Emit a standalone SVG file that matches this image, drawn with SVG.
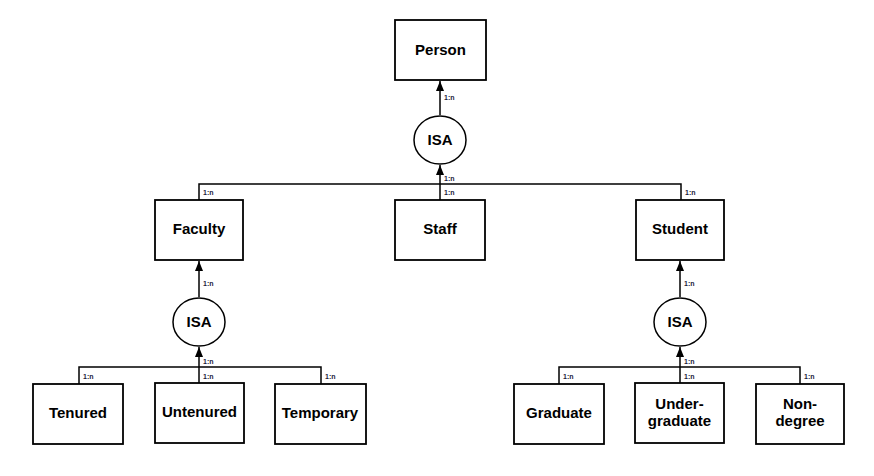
<svg xmlns="http://www.w3.org/2000/svg" width="874" height="476" viewBox="0 0 874 476">
<style>
.box{fill:#fff;stroke:#000;stroke-width:1.8}
.isa{fill:#fff;stroke:#000;stroke-width:1.5}
.lbl{font-family:"Liberation Sans",Arial,sans-serif;font-weight:bold;font-size:15px;fill:#000;text-anchor:middle}
.card{font-family:"Liberation Sans",Arial,sans-serif;font-weight:bold;font-size:7px;fill:#1a1a3a}
.ln{fill:none;stroke:#000;stroke-width:1.5}
</style>
<defs>
<marker id="arr" viewBox="0 0 10 10" refX="10" refY="5" markerWidth="10" markerHeight="10" markerUnits="userSpaceOnUse" orient="auto">
<path d="M0,1 L10,5 L0,9 Z" fill="#000"/>
</marker>
</defs>
<rect width="874" height="476" fill="#fff"/>
<g id="connectors">
<line class="ln" x1="440" y1="115" x2="440" y2="81" marker-end="url(#arr)"/>
<line class="ln" x1="440" y1="184" x2="440" y2="165" marker-end="url(#arr)"/>
<polyline class="ln" points="199,200 199,184 681,184 681,200"/>
<line class="ln" x1="440" y1="184" x2="440" y2="200"/>
<line class="ln" x1="199" y1="297" x2="199" y2="261" marker-end="url(#arr)"/>
<line class="ln" x1="199" y1="367" x2="199" y2="347" marker-end="url(#arr)"/>
<polyline class="ln" points="79,384 79,367 321,367 321,384"/>
<line class="ln" x1="199" y1="367" x2="199" y2="383"/>
<line class="ln" x1="680" y1="297" x2="680" y2="261" marker-end="url(#arr)"/>
<line class="ln" x1="680" y1="367" x2="680" y2="347" marker-end="url(#arr)"/>
<polyline class="ln" points="559,384 559,367 800,367 800,384"/>
<line class="ln" x1="680" y1="367" x2="680" y2="383"/>
<text class="card" x="444" y="100">1:n</text>
<text class="card" x="444" y="181">1:n</text>
<text class="card" x="444" y="195">1:n</text>
<text class="card" x="203" y="195">1:n</text>
<text class="card" x="685" y="195">1:n</text>
<text class="card" x="203" y="286">1:n</text>
<text class="card" x="203" y="364">1:n</text>
<text class="card" x="203" y="379">1:n</text>
<text class="card" x="83" y="379">1:n</text>
<text class="card" x="325" y="379">1:n</text>
<text class="card" x="684" y="286">1:n</text>
<text class="card" x="684" y="364">1:n</text>
<text class="card" x="684" y="379">1:n</text>
<text class="card" x="563" y="379">1:n</text>
<text class="card" x="804" y="379">1:n</text>
</g>
<g id="person"><rect class="box" x="395" y="20" width="91" height="60"/><text class="lbl" x="440.5" y="55">Person</text></g>
<g id="isa-top"><ellipse class="isa" cx="440" cy="140" rx="26" ry="24"/><text class="lbl" x="440" y="145">ISA</text></g>
<g id="faculty"><rect class="box" x="155" y="200" width="88" height="60"/><text class="lbl" x="199" y="234">Faculty</text></g>
<g id="staff"><rect class="box" x="395" y="200" width="90" height="60"/><text class="lbl" x="440" y="234">Staff</text></g>
<g id="student"><rect class="box" x="636" y="200" width="88" height="60"/><text class="lbl" x="680" y="234">Student</text></g>
<g id="isa-faculty"><ellipse class="isa" cx="199" cy="322" rx="26" ry="24"/><text class="lbl" x="199" y="327">ISA</text></g>
<g id="isa-student"><ellipse class="isa" cx="680" cy="322" rx="26" ry="24"/><text class="lbl" x="680" y="327">ISA</text></g>
<g id="tenured"><rect class="box" x="33" y="384" width="90" height="60"/><text class="lbl" x="78" y="418">Tenured</text></g>
<g id="untenured"><rect class="box" x="155" y="383" width="89" height="60"/><text class="lbl" x="199.5" y="417">Untenured</text></g>
<g id="temporary"><rect class="box" x="275" y="384" width="91" height="60"/><text class="lbl" x="320" y="418">Temporary</text></g>
<g id="graduate"><rect class="box" x="514" y="384" width="90" height="60"/><text class="lbl" x="559" y="418">Graduate</text></g>
<g id="undergraduate"><rect class="box" x="635" y="383" width="89" height="60"/><text class="lbl" x="679.5" y="409">Under-</text><text class="lbl" x="679.5" y="426">graduate</text></g>
<g id="nondegree"><rect class="box" x="756" y="384" width="88" height="60"/><text class="lbl" x="800" y="409">Non-</text><text class="lbl" x="800" y="426">degree</text></g>
</svg>
